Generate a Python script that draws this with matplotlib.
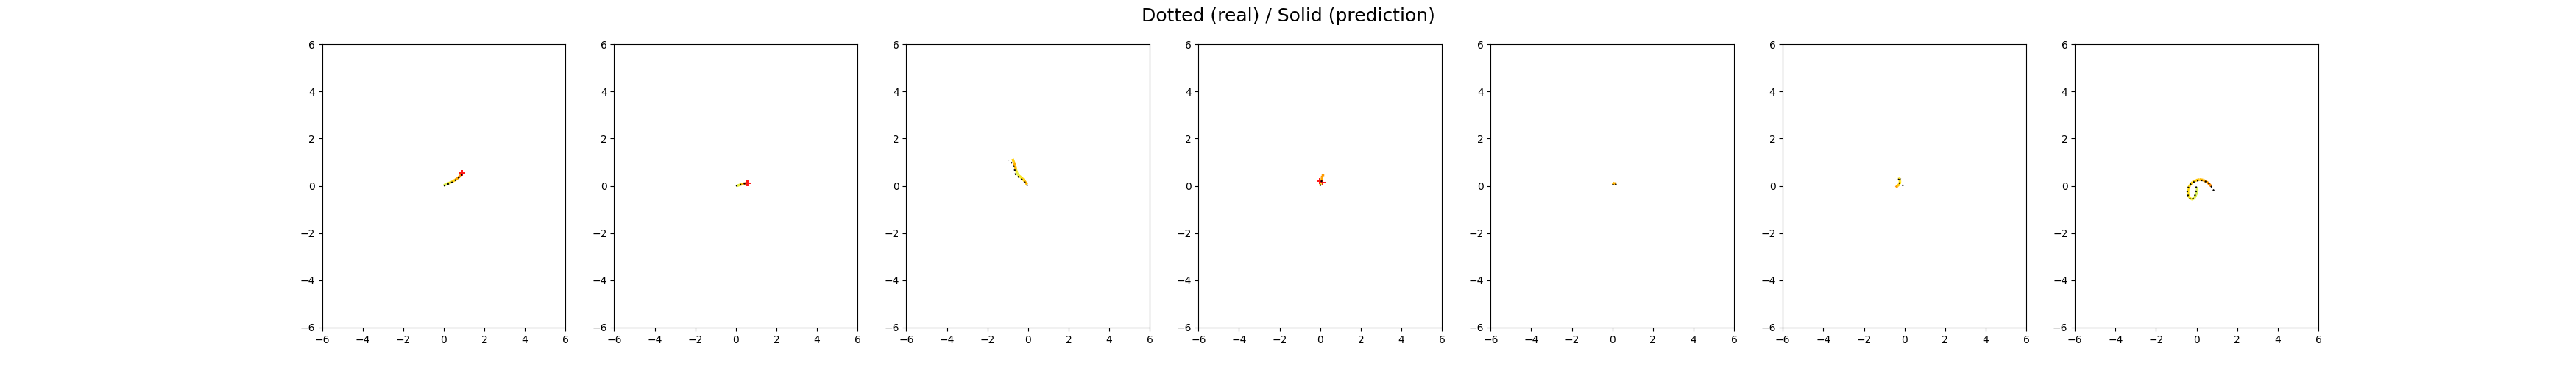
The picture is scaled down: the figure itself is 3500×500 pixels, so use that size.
import numpy as np
import matplotlib
matplotlib.use("Agg")
import matplotlib.pyplot as plt
from matplotlib.collections import LineCollection
from matplotlib.colors import LinearSegmentedColormap

# ---- data ----
real_x = [
    [0.0, 0.22, 0.40, 0.57, 0.73, 0.87, 0.95],
    [0.0, 0.20, 0.40, 0.55],
    [-0.02, -0.16, -0.30, -0.46, -0.61, -0.65, -0.70, -0.80, -0.94],
    [0.0, 0.05, 0.10],
    [0.0, 0.12, 0.20],
    [-0.05, -0.24, -0.31, -0.27, -0.18],
    [-0.02, -0.01, -0.06, -0.14, -0.28, -0.40, -0.46, -0.46, -0.37, -0.24, -0.06, 0.12, 0.30, 0.51, 0.67, 0.76, 0.86],
]
real_y = [
    [0.0, 0.08, 0.15, 0.24, 0.34, 0.45, 0.55],
    [0.0, 0.04, 0.09, 0.12],
    [0.0, 0.16, 0.27, 0.37, 0.48, 0.65, 0.83, 0.96, 1.07],
    [0.0, 0.15, 0.30],
    [0.03, 0.12, 0.03],
    [0.0, 0.11, 0.20, 0.33, 0.29],
    [-0.03, -0.19, -0.36, -0.52, -0.60, -0.47, -0.32, -0.16, 0.0, 0.12, 0.20, 0.24, 0.23, 0.16, 0.06, -0.09, -0.22],
]
pred_x = [
    [0.0, 0.20, 0.40, 0.58, 0.74, 0.86, 0.93],
    [0.05, 0.22, 0.38, 0.50],
    [-0.05, -0.19, -0.32, -0.48, -0.55, -0.60, -0.64, -0.70, -0.76],
    [0.0, 0.04, 0.08, 0.09, 0.10, 0.10],
    [0.02, 0.12, 0.18],
    [-0.27, -0.22, -0.24, -0.36, -0.42],
    [0.02, 0.03, -0.03, -0.12, -0.27, -0.38, -0.43, -0.42, -0.33, -0.20, -0.02, 0.15, 0.32, 0.50, 0.63, 0.72],
]
pred_y = [
    [0.02, 0.10, 0.17, 0.26, 0.36, 0.47, 0.56],
    [0.0, 0.05, 0.09, 0.11],
    [0.06, 0.23, 0.34, 0.45, 0.55, 0.70, 0.86, 1.00, 1.14],
    [0.05, 0.18, 0.25, 0.33, 0.42, 0.50],
    [0.05, 0.14, 0.08],
    [0.35, 0.20, 0.08, -0.01, -0.07],
    [-0.05, -0.20, -0.38, -0.53, -0.58, -0.45, -0.30, -0.13, 0.03, 0.16, 0.24, 0.27, 0.25, 0.17, 0.07, -0.02],
]
pred_c = [
    [0.0, 0.10, 0.25, 0.45, 0.60, 0.70, 0.80],
    [0.0, 0.20, 0.60, 0.80],
    [0.60, 0.30, 0.35, 0.10, 0.05, 0.30, 0.60, 0.40, 0.30],
    [0.20, 0.30, 0.50, 0.60, 0.62, 0.60],
    [0.30, 0.60, 0.50],
    [0.30, 0.25, 0.25, 0.50, 0.70],
    [0.0, 0.02, 0.05, 0.10, 0.20, 0.25, 0.30, 0.30, 0.32, 0.35, 0.38, 0.40, 0.50, 0.60, 0.68, 0.72],
]
red_x = [[0.92], [0.50, 0.57], [], [-0.03, 0.13], [], [], []]
red_y = [[0.55], [0.12, 0.10], [], [0.20, 0.14], [], [], []]

title = "Dotted (real) / Solid (prediction)"
lim = (-6, 6)
ticks = [-6, -4, -2, 0, 2, 4, 6]

cmap = LinearSegmentedColormap.from_list(
    "pred", ["#d6f25a", "#ffe81a", "#ffb000", "#ff7f00", "#ff2000"])

fig, axes = plt.subplots(1, 7, figsize=(35, 5), dpi=100)
for i, ax in enumerate(axes):
    px = np.array(pred_x[i]); py = np.array(pred_y[i]); pc = np.array(pred_c[i])
    pts = np.column_stack([px, py]).reshape(-1, 1, 2)
    segs = np.concatenate([pts[:-1], pts[1:]], axis=1)
    lc = LineCollection(segs, cmap=cmap, norm=plt.Normalize(0, 1), linewidth=2.5)
    lc.set_array((pc[:-1] + pc[1:]) / 2)
    ax.add_collection(lc)
    if red_x[i]:
        ax.plot(red_x[i], red_y[i], linestyle="none", marker="P", color="#ff1a1a",
                markersize=5.5, markeredgewidth=0)
    ax.plot(real_x[i], real_y[i], "k:", linewidth=1.5)
    ax.set_xlim(*lim); ax.set_ylim(*lim)
    ax.set_xticks(ticks); ax.set_yticks(ticks)

fig.suptitle(title, fontsize=18)
fig.savefig("out.png", dpi=100)
